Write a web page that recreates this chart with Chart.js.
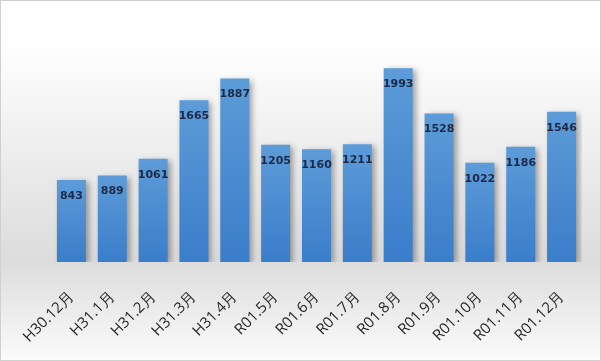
<!DOCTYPE html>
<html>
<head>
<meta charset="utf-8">
<script src="https://cdn.jsdelivr.net/npm/chart.js@4/dist/chart.umd.min.js"></script>
<style>
  html, body { margin: 0; padding: 0; background: #fff; }
  #wrap { width: 601px; height: 361px; position: relative; }
</style>
</head>
<body>
<div id="wrap"><canvas id="grafico"></canvas></div>
<script>
// datos del grafico
const meses = ['H30.12月', 'H31.1月', 'H31.2月', 'H31.3月', 'H31.4月', 'R01.5月', 'R01.6月',
  'R01.7月', 'R01.8月', 'R01.9月', 'R01.10月', 'R01.11月', 'R01.12月'];
const valores = [843, 889, 1061, 1665, 1887, 1205, 1160, 1211, 1993, 1528, 1022, 1186, 1546];
const ejeMax = 2500;

// fondo degradado y borde
const fondo = {
  id: 'fondo',
  beforeDraw(chart) {
    const c = chart.ctx;
    const w = chart.width, h = chart.height;
    const g = c.createLinearGradient(0, 0, 0, h);
    g.addColorStop(0, '#ffffff');
    g.addColorStop(0.15, '#fdfdfd');
    g.addColorStop(0.72, '#dcdcdc');
    g.addColorStop(1, '#fbfbfb');
    c.save();
    c.fillStyle = g;
    c.fillRect(0, 0, w, h);
    c.strokeStyle = '#d0d0d0';
    c.lineWidth = 1;
    c.strokeRect(0.5, 0.5, w - 1, h - 1);
    c.restore();
  }
};

// sombra de las barras
const sombra = {
  id: 'sombra',
  beforeDatasetsDraw(chart) {
    const c = chart.ctx;
    c.save();
    c.shadowColor = 'rgba(0,0,0,0.35)';
    c.shadowBlur = 6;
    c.shadowOffsetX = 3;
    c.shadowOffsetY = 2;
  },
  afterDatasetsDraw(chart) {
    chart.ctx.restore();
  }
};

// etiquetas de valor dentro de la barra
const etiquetas = {
  id: 'etiquetas',
  afterDatasetsDraw(chart) {
    const c = chart.ctx;
    const meta = chart.getDatasetMeta(0);
    c.save();
    c.font = 'bold 11px "DejaVu Sans"';
    c.fillStyle = '#1c2a48';
    c.textAlign = 'center';
    c.textBaseline = 'middle';
    meta.data.forEach((bar, i) => {
      c.fillText(String(valores[i]), bar.x, bar.y + 16);
    });
    c.restore();
  }
};

const ctx = document.getElementById('grafico');
new Chart(ctx, {
  type: 'bar',
  data: {
    labels: meses,
    datasets: [{
      data: valores,
      backgroundColor(context) {
        const chart = context.chart;
        const y = chart.scales.y;
        if (!chart.chartArea || !y) return '#4f8fd3';
        const v = context.raw || 0;
        const top = y.getPixelForValue(v);
        const bottom = y.getPixelForValue(0);
        const g = chart.ctx.createLinearGradient(0, top, 0, bottom);
        g.addColorStop(0, '#5d9cd8');
        g.addColorStop(1, '#3a7dca');
        return g;
      },
      borderWidth: 0,
      categoryPercentage: 1,
      barPercentage: 0.71
    }]
  },
  options: {
    responsive: true,
    maintainAspectRatio: false,
    animation: false,
    layout: { padding: { left: 51, right: 19, top: 19, bottom: 0 } },
    plugins: {
      legend: { display: false },
      tooltip: { enabled: false }
    },
    scales: {
      x: {
        grid: { display: false },
        border: { display: false },
        ticks: {
          color: '#262626',
          font: { size: 15, family: '"Open Sans"' },
          minRotation: 45,
          maxRotation: 45,
          autoSkip: false,
          padding: 18
        },
        afterFit(scale) { scale.height = 99; }
      },
      y: {
        display: false,
        min: 0,
        max: ejeMax
      }
    }
  },
  plugins: [fondo, sombra, etiquetas]
});
</script>
</body>
</html>
